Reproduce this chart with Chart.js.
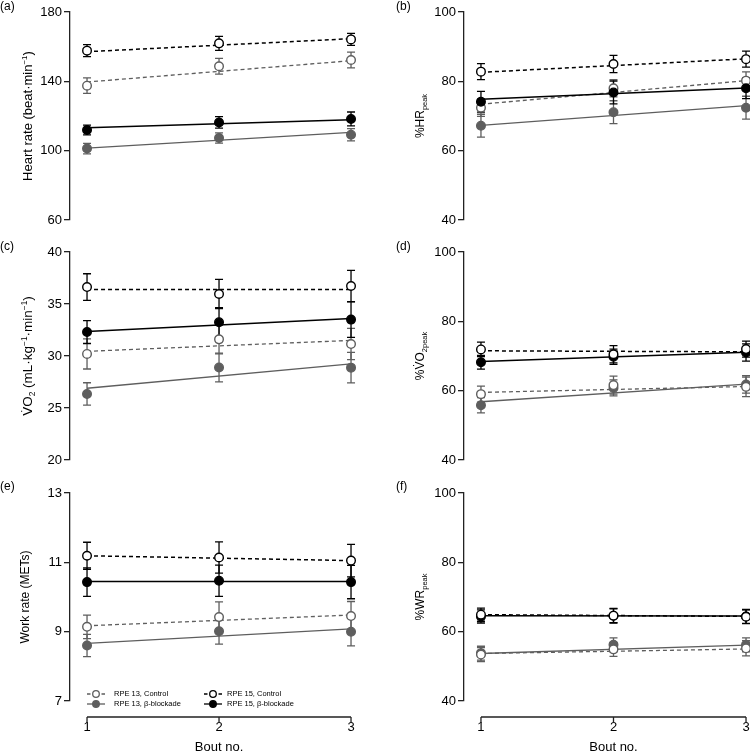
<!DOCTYPE html>
<html lang="en">
<head>
<meta charset="UTF-8">
<title>Responses across exercise bouts</title>
<script src="https://cdn.jsdelivr.net/npm/chart.js"></script>
<style>
  body { margin: 0; background: #fff; }
  #wrap { position: relative; width: 750px; height: 752px; overflow: hidden; }
  #wrap canvas { position: absolute; }
</style>
</head>
<body>
<div id="wrap">
  <canvas id="pa" width="375" height="240" style="left:0;top:0"></canvas>
  <canvas id="pb" width="375" height="240" style="left:375px;top:0"></canvas>
  <canvas id="pc" width="375" height="240" style="left:0;top:240px"></canvas>
  <canvas id="pd" width="375" height="240" style="left:375px;top:240px"></canvas>
  <canvas id="pe" width="375" height="272" style="left:0;top:480px"></canvas>
  <canvas id="pf" width="375" height="272" style="left:375px;top:480px"></canvas>
</div>
<script>
const bouts = [1, 2, 3];
const fitBouts = [1, 3];
// series order: RPE15 control, RPE15 b-blockade, RPE13 control, RPE13 b-blockade
const seriesNames = ['RPE 15, Control', 'RPE 15, β-blockade', 'RPE 13, Control', 'RPE 13, β-blockade'];

const hrTicks = [60, 100, 140, 180];
const vo2Ticks = [20, 25, 30, 35, 40];
const pctTicks = [40, 60, 80, 100];
const metTicks = [7, 9, 11, 13];

// (a) heart rate
const hrMean = [[157.7, 161.9, 164.2], [111.9, 116.3, 118.3], [137.5, 148.7, 152.3], [101.2, 107.3, 109.2]];
const hrSE = [[3.5, 4, 3.5], [2.8, 3.3, 4], [4.5, 4.5, 4.5], [3, 3, 3.5]];
const hrFit = [[157.1, 164.6], [113.2, 117.8], [139.6, 151.9], [101.5, 110.6]];

// (b) %HRpeak
const hrPctMean = [[82.8, 85.0, 86.4], [74.1, 76.8, 78.0], [72.4, 78.0, 80.2], [67.2, 71.1, 72.4]];
const hrPctSE = [[2.3, 2.5, 2.3], [3, 3.3, 3], [2.5, 2.5, 2.5], [3.3, 3.3, 3.3]];
const hrPctFit = [[82.6, 86.5], [74.8, 78.1], [73.4, 80.2], [67.3, 73.0]];

// (c) VO2
const vo2Mean = [[36.63, 35.96, 36.73], [32.3, 33.25, 33.5], [30.2, 31.6, 31.15], [26.35, 28.9, 28.88]];
const vo2SE = [[1.28, 1.4, 1.5], [1.1, 1.4, 1.7], [1.45, 1.4, 1.5], [1.08, 1.38, 1.47]];
const vo2Fit = [[36.4, 36.4], [32.35, 33.6], [30.45, 31.5], [26.9, 29.25]];

// (d) %VO2peak
const vo2PctMean = [[71.9, 70.5, 72.0], [68.2, 69.8, 71.0], [59.0, 61.6, 61.1], [55.8, 60.8, 61.8]];
const vo2PctSE = [[2.1, 2.5, 2.3], [2, 2.2, 2.5], [2.3, 2.6, 2.8], [2.2, 2.3, 2.5]];
const vo2PctFit = [[71.5, 71.2], [68.4, 71.1], [59.5, 61.2], [56.8, 61.9]];

// (e) work rate
const metMean = [[11.19, 11.14, 11.05], [10.43, 10.47, 10.43], [9.14, 9.42, 9.45], [8.6, 9.01, 9.0]];
const metSE = [[0.39, 0.45, 0.47], [0.41, 0.45, 0.48], [0.34, 0.44, 0.42], [0.32, 0.37, 0.41]];
const metFit = [[11.19, 11.05], [10.45, 10.45], [9.17, 9.48], [8.66, 9.08]];

// (f) %WRpeak
const wrPctMean = [[64.9, 64.6, 64.3], [64.4, 64.6, 64.4], [53.4, 54.9, 55.2], [53.8, 56.2, 56.2]];
const wrPctSE = [[1.9, 2.1, 2.0], [1.9, 2.0, 2.0], [2.0, 2.0, 2.2], [2.0, 2.0, 2.0]];
const wrPctFit = [[64.9, 64.4], [64.6, 64.5], [53.7, 55.0], [53.7, 56.1]];

const GRAY = '#5e5e5e';
const seriesStyle = [
  { color: '#000', open: true, dash: [4, 3], width: 1.5 },
  { color: '#000', open: false, dash: [], width: 1.5 },
  { color: GRAY, open: true, dash: [4, 3], width: 1.3 },
  { color: GRAY, open: false, dash: [], width: 1.3 }
];

const FONT = "'Liberation Sans', Arial, Helvetica, sans-serif";
Chart.defaults.font.family = FONT;
Chart.defaults.color = '#000';

const panels = [
  { id: 'pa', tag: '(a)', col: 0, row: 0, mean: hrMean, se: hrSE, fit: hrFit, ticks: hrTicks,
    title: [['Heart rate (beat·min'], ['−1', 'sup'], [')']], tSize: 13, tX: 32 },
  { id: 'pb', tag: '(b)', col: 1, row: 0, mean: hrPctMean, se: hrPctSE, fit: hrPctFit, ticks: pctTicks,
    title: [['%HR'], ['peak', 'sub']], tSize: 12, tX: 49 },
  { id: 'pc', tag: '(c)', col: 0, row: 1, mean: vo2Mean, se: vo2SE, fit: vo2Fit, ticks: vo2Ticks,
    title: [['V\u0307O'], ['2', 'sub'], [' (mL·kg'], ['−1', 'sup'], ['·min'], ['−1', 'sup'], [')']], tSize: 13.5, tX: 32 },
  { id: 'pd', tag: '(d)', col: 1, row: 1, mean: vo2PctMean, se: vo2PctSE, fit: vo2PctFit, ticks: pctTicks,
    title: [['%V\u0307O'], ['2peak', 'sub']], tSize: 12, tX: 49 },
  { id: 'pe', tag: '(e)', col: 0, row: 2, mean: metMean, se: metSE, fit: metFit, ticks: metTicks,
    title: [['Work rate (METs)']], tSize: 12, tX: 29, legend: true },
  { id: 'pf', tag: '(f)', col: 1, row: 2, mean: wrPctMean, se: wrPctSE, fit: wrPctFit, ticks: pctTicks,
    title: [['%WR'], ['peak', 'sub']], tSize: 12, tX: 49 }
];

const colGeom = [
  { yw: 70, padR: 15, xmin: 0.871, xmax: 3.068, tagX: 0 },
  { yw: 89, padR: 0, xmin: 0.872, xmax: 3.03, tagX: 21 }
];
const rowGeom = [
  { padT: 12, padB: 20 },
  { padT: 12, padB: 20 },
  { padT: 13, padB: 0, xAxisH: 51 }
];

function drawRich(ctx, parts, size, cx, cy) {
  // rotated title, reading bottom to top
  ctx.save();
  ctx.translate(cx, cy);
  ctx.rotate(-Math.PI / 2);
  ctx.fillStyle = '#000';
  ctx.textBaseline = 'alphabetic';
  ctx.textAlign = 'left';
  const small = size * 0.62;
  let total = 0;
  parts.forEach(p => {
    ctx.font = (p[1] ? small : size) + 'px ' + FONT;
    total += ctx.measureText(p[0]).width;
  });
  let x = -total / 2;
  parts.forEach(p => {
    ctx.font = (p[1] ? small : size) + 'px ' + FONT;
    const dy = p[1] === 'sub' ? 3 : p[1] === 'sup' ? -5 : 0;
    ctx.fillText(p[0], x, dy);
    x += ctx.measureText(p[0]).width;
  });
  ctx.restore();
}

function drawMarker(ctx, st, x, y, r) {
  ctx.beginPath();
  ctx.arc(x, y, r, 0, Math.PI * 2);
  ctx.fillStyle = st.open ? '#fff' : st.color;
  ctx.fill();
  ctx.lineWidth = 1.3;
  ctx.strokeStyle = st.color;
  ctx.stroke();
}

function decor(p, c, r) {
  return {
    id: 'decor',
    beforeDatasetsDraw(chart) {
      const ctx = chart.ctx, xs = chart.scales.x, ys = chart.scales.y;
      for (let i = p.mean.length - 1; i >= 0; i--) {
        const st = seriesStyle[i];
        ctx.save();
        ctx.strokeStyle = st.color;
        ctx.lineWidth = 1.3;
        p.mean[i].forEach((v, j) => {
          const x = xs.getPixelForValue(bouts[j]);
          const y1 = ys.getPixelForValue(v + p.se[i][j]);
          const y2 = ys.getPixelForValue(v - p.se[i][j]);
          ctx.beginPath();
          ctx.moveTo(x, y1); ctx.lineTo(x, y2);
          ctx.moveTo(x - 4, y1); ctx.lineTo(x + 4, y1);
          ctx.moveTo(x - 4, y2); ctx.lineTo(x + 4, y2);
          ctx.stroke();
        });
        ctx.restore();
      }
    },
    afterDraw(chart) {
      const ctx = chart.ctx, xs = chart.scales.x, area = chart.chartArea;
      drawRich(ctx, p.title, p.tSize, p.tX, (area.top + area.bottom) / 2);

      ctx.save();
      ctx.fillStyle = '#000';
      ctx.font = '12px ' + FONT;
      ctx.textBaseline = 'middle';
      ctx.textAlign = 'left';
      ctx.fillText(p.tag, c.tagX, 7);
      ctx.restore();

      if (r.xAxisH) {
        const y0 = area.bottom + 16;
        const xa = xs.getPixelForValue(bouts[0]);
        const xb = xs.getPixelForValue(bouts[bouts.length - 1]);
        ctx.save();
        ctx.strokeStyle = '#222';
        ctx.lineWidth = 1.3;
        ctx.beginPath();
        ctx.moveTo(xa, y0); ctx.lineTo(xb, y0);
        bouts.forEach(b => {
          const x = xs.getPixelForValue(b);
          ctx.moveTo(x, y0); ctx.lineTo(x, y0 + 6);
        });
        ctx.stroke();
        ctx.fillStyle = '#000';
        ctx.font = '13px ' + FONT;
        ctx.textAlign = 'center';
        ctx.textBaseline = 'alphabetic';
        ctx.fillText('Bout no.', (xa + xb) / 2, chart.height - 1);
        ctx.restore();
      }

      if (p.legend) {
        const L = area.left, B = area.bottom;
        const cols = [[2, 3], [0, 1]];
        const symX = [L + 26, L + 143];
        const txtX = [L + 44, L + 157];
        const rowY = [B - 7, B + 3];
        ctx.save();
        cols.forEach((list, ci) => {
          list.forEach((si, ri) => {
            const st = seriesStyle[si];
            const cx = symX[ci], cy = rowY[ri];
            ctx.strokeStyle = st.color;
            ctx.lineWidth = 1.3;
            ctx.beginPath();
            if (st.open) {
              ctx.moveTo(cx - 9, cy); ctx.lineTo(cx - 5.5, cy);
              ctx.moveTo(cx + 5.5, cy); ctx.lineTo(cx + 9, cy);
            } else {
              ctx.moveTo(cx - 9, cy); ctx.lineTo(cx + 9, cy);
            }
            ctx.stroke();
            drawMarker(ctx, st, cx, cy, 3.3);
            ctx.fillStyle = '#000';
            ctx.font = '7.5px ' + FONT;
            ctx.textAlign = 'left';
            ctx.textBaseline = 'middle';
            ctx.fillText(seriesNames[si], txtX[ci], cy);
          });
        });
        ctx.restore();
      }
    }
  };
}

function makePanel(p) {
  const c = colGeom[p.col], r = rowGeom[p.row];
  const datasets = [];
  p.mean.forEach((vals, i) => {
    const st = seriesStyle[i];
    datasets.push({
      label: seriesNames[i],
      data: vals.map((v, j) => ({ x: bouts[j], y: v })),
      showLine: false,
      pointRadius: 4.3,
      pointBorderWidth: 1.4,
      pointBackgroundColor: st.open ? '#fff' : st.color,
      pointBorderColor: st.color
    });
  });
  p.fit.forEach((vals, i) => {
    const st = seriesStyle[i];
    datasets.push({
      label: seriesNames[i] + ' fit',
      data: vals.map((v, j) => ({ x: fitBouts[j], y: v })),
      showLine: true,
      pointRadius: 0,
      borderColor: st.color,
      borderWidth: st.width,
      borderDash: st.dash
    });
  });

  const xScale = {
    type: 'linear',
    min: c.xmin,
    max: c.xmax,
    display: !!r.xAxisH,
    afterBuildTicks: s => { s.ticks = bouts.map(v => ({ value: v })); },
    grid: { display: false, drawTicks: false },
    border: { display: false },
    ticks: { padding: 19, font: { size: 13 }, color: '#000' }
  };
  if (r.xAxisH) {
    xScale.afterFit = s => {
      s.height = r.xAxisH;
      s.paddingLeft = 0;
      s.paddingRight = 0;
    };
  }

  new Chart(document.getElementById(p.id), {
    type: 'scatter',
    data: { datasets },
    options: {
      responsive: false,
      animation: false,
      layout: { autoPadding: false, padding: { top: r.padT, bottom: r.padB, left: 0, right: c.padR } },
      plugins: { legend: { display: false }, tooltip: { enabled: false } },
      scales: {
        x: xScale,
        y: {
          type: 'linear',
          min: p.ticks[0],
          max: p.ticks[p.ticks.length - 1],
          afterFit: s => { s.width = c.yw; },
          afterBuildTicks: s => { s.ticks = p.ticks.map(v => ({ value: v })); },
          grid: { drawOnChartArea: false, drawTicks: true, tickLength: 6, color: '#222', lineWidth: 1.3 },
          border: { display: true, color: '#222', width: 1.3 },
          ticks: { padding: 2, font: { size: 13 }, color: '#000' }
        }
      }
    },
    plugins: [decor(p, c, r)]
  });
}

panels.forEach(makePanel);
</script>
</body>
</html>
